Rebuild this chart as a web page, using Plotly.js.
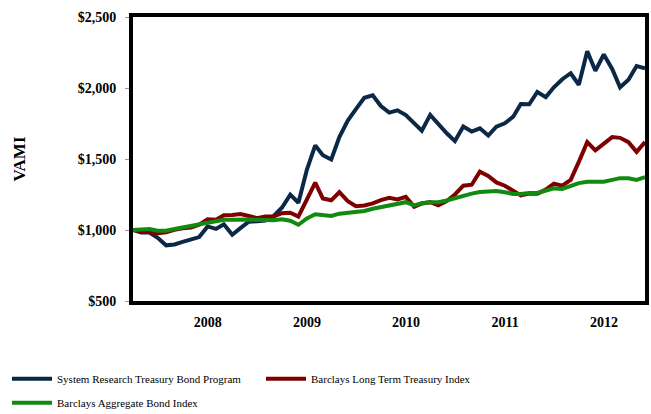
<!DOCTYPE html>
<html>
<head>
<meta charset="utf-8">
<script src="https://cdn.plot.ly/plotly-3.0.1.min.js"></script>
<style>html,body{margin:0;padding:0;background:#fff;}#chart{width:651px;height:414px;}</style>
</head>
<body>
<div id="chart"></div>
<script>
// Month-end dates, Mar 2007 .. May 2012
const startYear = 2007, startMonth = 3, nMonths = 63;
function monthEnd(y, m) { // m 1..12
  const d = new Date(Date.UTC(y, m, 0));
  return d.toISOString().slice(0, 10);
}
const dates = [];
for (let i = 0; i < nMonths; i++) {
  const mm = startMonth - 1 + i;
  dates.push(monthEnd(startYear + Math.floor(mm / 12), (mm % 12) + 1));
}

const seriesNames = [
  "System Research Treasury Bond Program",
  "Barclays Long Term Treasury Index",
  "Barclays Aggregate Bond Index"
];

const systemResearch = [
  1000, 982, 982, 945, 892, 898, 916, 932, 950, 1025,
  1008, 1040, 967, 1013, 1058, 1062, 1066, 1099, 1157, 1249,
  1192, 1423, 1596, 1527, 1497, 1654, 1770, 1851, 1931, 1949,
  1873, 1827, 1843, 1809, 1754, 1700, 1811, 1746, 1681, 1626,
  1728, 1693, 1716, 1665, 1728, 1751, 1798, 1887, 1885, 1972,
  1936, 2005, 2062, 2104, 2023, 2259, 2121, 2236, 2134, 2005,
  2058, 2155, 2139
];

const longTreasury = [
  1000, 993, 988, 977, 984, 1002, 1012, 1018, 1037, 1076,
  1072, 1104, 1106, 1113, 1099, 1083, 1095, 1095, 1118, 1122,
  1095, 1210, 1333, 1222, 1209, 1266, 1203, 1168, 1173, 1187,
  1210, 1226, 1215, 1233, 1164, 1187, 1196, 1173, 1203, 1250,
  1312, 1319, 1411, 1381, 1335, 1312, 1273, 1244, 1256, 1256,
  1284, 1326, 1312, 1353, 1480, 1619, 1561, 1608, 1654, 1649,
  1619, 1550, 1619
];

const aggregateBond = [
  1000, 1002, 1007, 995, 995, 1007, 1018, 1025, 1035, 1053,
  1058, 1072, 1072, 1076, 1074, 1072, 1069, 1069, 1076, 1065,
  1037, 1081, 1111, 1104, 1099, 1115, 1122, 1127, 1134, 1150,
  1162, 1170, 1185, 1196, 1173, 1189, 1196, 1196, 1208, 1224,
  1243, 1256, 1268, 1270, 1275, 1266, 1254, 1253, 1261, 1261,
  1280, 1293, 1289, 1312, 1330, 1340, 1340, 1340, 1353, 1365,
  1365, 1353, 1372
];

const yearTicks = ["2008-01-01", "2009-01-01", "2010-01-01", "2011-01-01", "2012-01-01"];
const yearLabels = ["2008", "2009", "2010", "2011", "2012"];
const colors = ["#0B2847", "#800000", "#118A11"];
const allSeries = [systemResearch, longTreasury, aggregateBond];
const legendIds = ["legend", "legend2", "legend3"];

const traces = allSeries.map((vals, i) => ({
  x: dates, y: vals, type: "scatter", mode: "lines",
  name: seriesNames[i],
  legend: legendIds[i],
  line: { color: colors[i], width: 4 },
  hoverinfo: "skip"
}));

const serif = "Liberation Serif, Times New Roman, serif";
const legendFont = { family: serif, size: 11, color: "#000" };
function legendAt(x, y) {
  return {
    orientation: "h", xref: "container", yref: "container",
    x: x, y: y, xanchor: "left", yanchor: "top",
    itemwidth: 40, font: legendFont, bgcolor: "rgba(0,0,0,0)"
  };
}
const layout = {
  width: 651, height: 414,
  margin: { l: 133, r: 6, t: 17, b: 113 },
  paper_bgcolor: "#fff", plot_bgcolor: "#fff",
  showlegend: true,
  xaxis: {
    type: "date",
    range: [dates[0], dates[dates.length - 1]],
    tickvals: yearTicks, ticktext: yearLabels,
    ticks: "", showgrid: false, zeroline: false,
    showline: true, linecolor: "#000", linewidth: 4, mirror: true,
    tickfont: { family: serif, size: 14, color: "#000", weight: "bold" },
    ticklabelstandoff: 5
  },
  yaxis: {
    range: [500, 2500], dtick: 500, tick0: 500,
    tickprefix: "$", tickformat: ",",
    ticks: "outside", ticklen: 4, tickwidth: 1, tickcolor: "#999",
    showgrid: false, zeroline: false,
    showline: true, linecolor: "#000", linewidth: 4, mirror: true,
    tickfont: { family: serif, size: 14, color: "#000", weight: "bold" },
    ticklabelstandoff: 6,
    title: { text: "VAMI", font: { family: serif, size: 17, color: "#000", weight: "bold" }, standoff: 49 }
  },
  legend: legendAt(7 / 651, 0.12),
  legend2: legendAt(261 / 651, 0.12),
  legend3: legendAt(7 / 651, 0.062)
};

Plotly.newPlot("chart", traces, layout, { displayModeBar: false, staticPlot: true });
</script>
</body>
</html>
